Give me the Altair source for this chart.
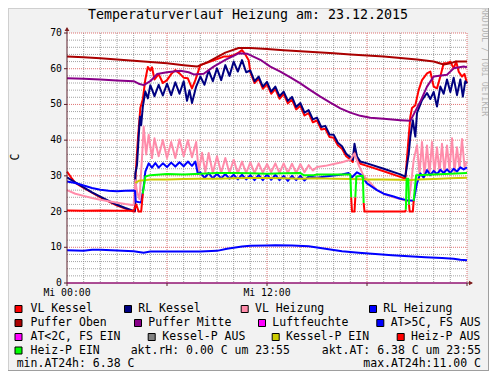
import altair as alt
import pandas as pd

# ---------------- data: hours of the day (23.12.2015) and temperatures in C ----------------
vl_kessel_t = [0, 0.3, 0.5, 1, 2, 3, 4.0, 4.08, 4.1, 4.25, 4.4, 4.55, 4.7, 4.85,
               5.0, 5.1, 5.25, 5.5, 5.75, 6.0, 6.25, 6.5, 6.75, 7.0, 7.25, 7.5, 7.7,
               8.0, 8.3, 8.6, 9.0, 9.4, 9.7, 10.0, 10.3, 10.5, 10.7, 10.9,
               11.0, 11.25, 11.5, 11.75, 12.0, 12.25, 12.5, 12.75, 13.0, 13.25, 13.5, 13.75,
               14.0, 14.25, 14.5, 14.75, 15.0, 15.25, 15.5, 15.75, 16.0, 16.25, 16.5, 16.75, 17.0,
               17.15, 17.25, 17.4, 17.6, 18.0, 19.0, 20.0, 20.3,
               20.45, 20.6, 20.7, 20.9, 21.1, 21.3, 21.6, 21.8, 22.0, 22.2, 22.4, 22.6, 22.8,
               23.0, 23.2, 23.35, 23.5, 23.7, 23.85, 24.0]
vl_kessel_v = [31.2, 29.2, 28.0, 26.6, 24.0, 21.7, 20.0, 20.0, 29.0, 40.0, 49.0, 51.5, 57.0, 60.5,
               59.5, 60.4, 57.0, 58.5, 56.0, 56.8, 58.5, 59.6, 58.7, 57.5, 57.3, 54.5, 56.8,
               61.0, 61.5, 62.0, 62.7, 63.4, 63.4, 63.8, 64.5, 65.2, 64.0, 62.4,
               59.0, 56.0, 57.2, 54.4, 55.6, 53.0, 54.3, 51.6, 52.9, 50.3, 51.3, 48.6,
               49.6, 46.9, 47.6, 45.0, 45.5, 43.0, 43.2, 40.9, 40.7, 38.6, 37.6, 35.5, 34.6,
               33.9, 38.0, 34.8, 33.4, 32.8, 31.3, 29.7, 29.2,
               38.0, 46.6, 49.0, 49.8, 54.0, 56.8, 58.7, 59.2, 55.0, 54.5, 57.8, 61.5, 61.5,
               62.0, 60.1, 62.0, 59.2, 57.8, 58.5, 55.9]

rl_kessel_t = [0, 0.5, 1, 1.5, 2, 2.5, 3, 3.5, 4.0, 4.08, 4.1, 4.2, 4.3, 4.38, 4.45, 4.55, 4.7, 4.85,
               5.0, 5.25, 5.5, 5.75, 6.0, 6.25, 6.5, 6.75, 7.0, 7.2, 7.35, 7.5, 7.75, 8.0,
               8.25, 8.5, 8.75, 9.0, 9.25, 9.5, 9.75, 10.0, 10.25, 10.5, 10.75,
               11.0, 11.25, 11.5, 11.75, 12.0, 12.25, 12.5, 12.75, 13.0, 13.25, 13.5, 13.75,
               14.0, 14.25, 14.5, 14.75, 15.0, 15.25, 15.5, 15.75, 16.0, 16.25, 16.5, 16.75, 17.0,
               17.15, 17.25, 17.4, 17.6, 18.0, 19.0, 20.0, 20.3,
               20.5, 20.6, 20.75, 20.9, 21.0, 21.3, 21.6, 21.8, 22.0, 22.2, 22.4, 22.6, 22.8,
               23.0, 23.2, 23.4, 23.6, 23.75, 23.9, 24.0]
rl_kessel_v = [29.6, 28.2, 26.8, 25.4, 24.2, 23.0, 21.9, 21.0, 20.2, 20.2, 30.7, 33.0, 41.0, 46.6, 44.2, 49.4, 53.6, 51.7,
               55.4, 52.3, 55.5, 52.5, 55.8, 52.6, 56.2, 53.0, 56.5, 51.0, 54.0, 50.4, 55.0, 57.8,
               55.5, 59.5, 56.5, 60.1, 56.8, 61.0, 58.0, 62.0, 59.2, 62.4, 59.0,
               59.5, 56.5, 57.8, 55.0, 56.3, 53.6, 55.0, 52.3, 53.6, 51.0, 52.1, 49.3,
               50.4, 47.7, 48.4, 45.8, 46.3, 43.7, 44.0, 41.6, 41.5, 39.3, 38.3, 36.2, 35.2,
               34.5, 39.0, 35.4, 34.0, 33.5, 32.0, 30.4, 29.8,
               36.0, 41.0, 45.6, 41.0, 47.6, 51.2, 53.2, 51.5, 53.5, 49.4, 55.0, 53.0, 57.0,
               53.5, 57.5, 52.6, 57.0, 52.2, 56.5, 55.9]

vl_heiz_t = [0, 0.5, 1, 1.5, 2, 2.5, 3, 3.5, 4.0, 4.1, 4.2, 4.35, 4.5, 4.6, 4.75, 4.9,
             5.1, 5.25, 5.5, 5.75, 6.0, 6.25, 6.5, 6.75, 7.0, 7.25, 7.5, 7.75,
             7.9, 8.1, 8.3, 8.5, 8.75,
             9.0, 9.25, 9.5, 9.75, 10.0, 10.25, 10.5, 10.75, 11.0, 11.25, 11.5, 11.75, 12.0, 12.25,
             12.5, 12.75, 13.0, 13.25, 13.5, 13.75, 14.0, 14.25, 14.5, 14.75, 15.0,
             15.5, 16.0, 16.5, 17.0, 17.25, 17.5, 17.8, 18.2, 18.6, 19.0, 19.6, 20.2, 20.5,
             20.65, 20.8, 21.0, 21.15, 21.3, 21.45, 21.6, 21.75, 21.9, 22.05, 22.2, 22.35, 22.5,
             22.65, 22.8, 22.95, 23.1, 23.25, 23.4, 23.55, 23.7, 23.85, 24.0]
vl_heiz_v = [26.0, 25.0, 24.4, 23.8, 23.3, 22.9, 22.5, 22.1, 21.8, 28.8, 25.5, 23.5, 35.0, 43.8, 36.0, 41.5,
             35.0, 40.5, 35.5, 40.0, 35.0, 39.5, 35.0, 40.2, 35.5, 40.0, 35.2, 39.5,
             31.0, 36.5, 31.0, 36.4, 30.8,
             35.5, 30.8, 35.0, 30.8, 34.5, 30.7, 34.0, 30.8, 33.8, 30.8, 33.5, 30.9, 33.3, 31.0,
             33.5, 30.8, 33.5, 30.8, 33.4, 30.8, 33.3, 31.0, 33.0, 31.5, 32.5,
             32.8, 33.3, 33.8, 34.5, 36.3, 33.0, 30.0, 28.0, 26.0, 25.0, 24.0, 23.2, 22.8,
             28.0, 34.4, 38.6, 30.5, 39.5, 30.0, 38.5, 30.5, 39.5, 30.8, 38.0, 31.0, 39.0,
             31.0, 38.5, 31.5, 40.5, 31.0, 38.0, 32.0, 40.3, 32.5, 34.0]

rl_heiz_t = [0, 0.5, 1, 1.5, 2, 2.5, 3, 3.5, 4.0, 4.08, 4.12, 4.45, 4.6, 4.7, 4.9,
             5.1, 5.3, 5.5, 5.75, 6.0, 6.25, 6.5, 6.75, 7.0, 7.25, 7.5, 7.7, 7.85,
             8.0, 8.25, 8.5, 8.75, 9.0, 9.25, 9.5, 9.75, 10.0, 10.25, 10.5, 10.75, 11.0, 11.25,
             11.5, 11.75, 12.0, 12.25, 12.5, 12.75, 13.0, 13.25, 13.5, 13.75, 14.0, 14.25, 14.5,
             15.0, 15.5, 16.0, 16.5, 16.9, 17.1, 17.4, 17.6, 18.0, 18.6, 19.0, 19.6, 20.0, 20.4, 20.8,
             21.0, 21.2, 21.4, 21.6, 21.8, 22.0, 22.2, 22.4, 22.6, 22.8, 23.0, 23.2, 23.4, 23.6, 23.8, 24.0]
rl_heiz_v = [28.4, 28.0, 27.3, 26.6, 26.1, 25.8, 25.7, 25.8, 25.9, 25.8, 22.8, 22.5, 27.0, 31.2, 33.5,
             32.3, 33.6, 32.3, 33.5, 32.5, 33.7, 32.6, 33.8, 32.7, 34.0, 32.8, 34.0, 30.5,
             31.0, 29.4, 30.8, 29.3, 30.6, 29.3, 30.5, 29.2, 30.3, 29.0, 30.3, 29.0, 30.2, 28.8,
             30.3, 28.8, 30.4, 28.9, 30.3, 28.8, 30.0, 28.6, 30.0, 28.8, 30.0, 28.7, 29.8,
             29.5, 29.8, 30.1, 30.4, 30.8, 29.6, 31.0, 30.5, 27.9, 26.0, 25.0, 24.2, 23.6, 23.2, 23.0,
             27.9, 30.7, 29.5, 31.6, 30.2, 31.4, 30.5, 31.7, 30.8, 31.8, 30.8, 32.0, 31.2, 32.4, 31.8, 32.4]

puffer_oben_t = [0, 1, 2, 3, 4, 5, 6, 7, 7.8, 8.5, 9.5, 10.3, 11, 12, 13, 14, 15, 16, 17, 18, 19, 20,
                 21, 22, 22.6, 23, 23.3, 24]
puffer_oben_v = [63.4, 63.2, 62.9, 62.6, 62.2, 61.9, 61.5, 61.0, 60.6, 62.0, 64.5, 65.8, 65.8, 65.5,
                 65.2, 64.9, 64.6, 64.3, 64.0, 63.7, 63.4, 63.0, 62.6, 62.0, 61.2, 61.5, 62.0, 62.0]

puffer_mitte_t = [0, 1, 2, 3, 4, 4.3, 4.6, 5.0, 5.4, 6.0, 6.8, 7.3, 7.6, 8.2, 8.8, 9.5, 10.3, 10.8,
                  11.6, 12.2, 12.8, 13.4, 14, 14.6, 15.2, 15.8, 16.4, 17, 17.6, 18.2, 19, 20, 20.6,
                  21.2, 21.6, 22.0, 22.8, 23.2, 23.8, 24]
puffer_mitte_v = [57.3, 57.2, 57.0, 56.7, 56.5, 55.8, 55.4, 56.5, 58.5, 59.0, 59.4, 59.0, 58.4, 58.6,
                  60.6, 62.5, 64.3, 64.2, 62.5, 60.6, 59.2, 57.6, 55.9, 54.0, 52.2, 50.5, 48.9, 47.7,
                  46.8, 46.3, 46.0, 45.6, 45.4, 50.8, 55.0, 57.8, 58.3, 60.1, 60.6, 60.4]

luftfeuchte_t = [0, 24]
luftfeuchte_v = [0.0, 0.0]

aussen_t = [0, 1, 1.5, 2, 3, 4, 4.6, 5, 6, 7, 8, 9, 9.6, 10.5, 11, 12, 12.5, 13.5, 14.5, 15.5,
            16.5, 17.5, 18.5, 19.5, 20.5, 21.5, 22.5, 23.2, 23.6, 24]
aussen_v = [9.2, 9.0, 9.3, 9.3, 9.1, 8.9, 8.5, 8.8, 8.8, 8.8, 8.8, 9.0, 9.6, 10.2, 10.4, 10.5, 10.6,
            10.5, 10.3, 9.6, 8.9, 8.5, 8.1, 7.8, 7.5, 7.2, 7.0, 6.8, 6.5, 6.4]

kessel_p_ein_t = [4.1, 4.3, 5, 6, 7, 8, 9, 10, 11, 12, 13, 14, 15, 16, 17, 18, 19, 20, 20.5, 21, 22, 23, 24]
kessel_p_ein_v = [28.0, 28.6, 29.0, 29.0, 29.1, 29.2, 29.2, 29.3, 29.4, 29.4, 29.3, 29.2, 29.3, 29.2,
                  29.1, 29.0, 29.0, 28.9, 28.8, 29.0, 29.1, 29.3, 29.5]

heiz_p_aus_t = [0, 1, 2, 3, 4.0, 4.15, 4.3, 4.45, 4.55,
                17.05, 17.1, 17.25, 17.3,
                17.8, 17.85, 20.3, 20.33,
                20.52, 20.56, 20.75, 20.8]
heiz_p_aus_v = [20.3, 20.2, 20.3, 20.2, 20.2, 22.0, 20.0, 20.0, 25.0,
                24.0, 20.0, 20.0, 24.0,
                22.4, 20.0, 20.0, 20.5,
                22.0, 20.0, 20.0, 23.0]
heiz_p_aus_seg = [0, 0, 0, 0, 0, 0, 0, 0, 0,
                  1, 1, 1, 1,
                  2, 2, 2, 2,
                  3, 3, 3, 3]

heiz_p_ein_t = [4.55, 4.7, 5.0, 6.0, 7.0, 8.0, 9.0, 10.0, 11.0, 12.0, 13.0, 14.0, 14.2, 14.8, 15.0,
                16.0, 17.0, 17.05,
                17.3, 17.36, 17.75, 17.8,
                20.33, 20.38, 20.48, 20.52,
                20.8, 20.95, 22.0, 23.0, 24.0]
heiz_p_ein_v = [25.0, 29.8, 30.2, 30.5, 30.4, 30.6, 30.8, 30.8, 30.7, 30.6, 30.7, 30.8, 30.2, 30.2, 30.4,
                30.4, 30.4, 24.0,
                24.0, 29.8, 30.0, 22.4,
                20.5, 29.2, 29.2, 22.0,
                23.0, 30.2, 30.4, 30.6, 30.8]
heiz_p_ein_seg = [0, 0, 0, 0, 0, 0, 0, 0, 0, 0, 0, 0, 0, 0, 0, 0, 0, 0,
                  1, 1, 1, 1,
                  2, 2, 2, 2,
                  3, 3, 3, 3, 3]

legend_labels = ["VL Kessel", "RL Kessel", "VL Heizung", "RL Heizung",
                 "Puffer Oben", "Puffer Mitte", "Luftfeuchte", "AT>5C, FS AUS",
                 "AT<2C, FS EIN", "Kessel-P AUS", "Kessel-P EIN", "Heiz-P AUS",
                 "Heiz-P EIN"]
info_texts = ["akt.rH: 0.00 C um 23:55", "akt.AT: 6.38 C um 23:55",
              "min.AT24h: 6.38 C", "max.AT24h:11.00 C"]
x_tick_hours = [0, 12]
x_tick_labels = ["Mi 00:00", "Mi 12:00"]
y_ticks = [0, 10, 20, 30, 40, 50, 60, 70]
y_tick_labels = ["0", "10", "20", "30", "40", "50", "60", "70"]

# ---------------- styles / layout ----------------
COLORS = {
    "VL Kessel": "#FF0000", "RL Kessel": "#000080", "VL Heizung": "#FF8CAA",
    "RL Heizung": "#0000FF", "Puffer Oben": "#AA0000", "Puffer Mitte": "#880088",
    "Luftfeuchte": "#FF00FF", "AT>5C, FS AUS": "#0000FF", "AT<2C, FS EIN": "#FF00FF",
    "Kessel-P AUS": "#808080", "Kessel-P EIN": "#CCCC00", "Heiz-P AUS": "#FF0000",
    "Heiz-P EIN": "#00FF00",
}
FONT = "DejaVu Sans Mono"
W, H = 400, 250
PAD = {"left": 59, "top": 25, "right": 22, "bottom": 88}

legend_text_x = [-36.5, 71.3, 188, 316.3, -36.5, 81.3, 205.3, 323.7, -36.5, 95.3, 219, 344, -36.5]
legend_swatch_x = [-48.5, 61, 177.7, 306, -48.5, 71, 195, 313.3, -48.5, 84.7, 208.7, 333.7, -48.5]
legend_row_y = [276, 276, 276, 276, 290, 290, 290, 290, 304, 304, 304, 304, 317.5]
info_layout = [(63.7, 317.5, "left"), (414, 317.5, "right"), (-50.3, 331, "left"), (414, 331, "right")]

xs = alt.Scale(domain=[0, 24], nice=False, zero=False)
ys = alt.Scale(domain=[0, 70], nice=False, zero=False)
AXIS_COL = "#5a1f2a"
ARROW_COL = "#801F1F"
MINOR_COL = "#8c8c8c"
MAJOR_COL = "#d85a5a"

one = pd.DataFrame({"a": [0]})


def X(field="t"):
    return alt.X(f"{field}:Q", scale=xs, axis=None)


def Y(field="v"):
    return alt.Y(f"{field}:Q", scale=ys, axis=None)


series_def = [
    ("VL Kessel", vl_kessel_t, vl_kessel_v, None),
    ("RL Kessel", rl_kessel_t, rl_kessel_v, None),
    ("VL Heizung", vl_heiz_t, vl_heiz_v, None),
    ("RL Heizung", rl_heiz_t, rl_heiz_v, None),
    ("Puffer Oben", puffer_oben_t, puffer_oben_v, None),
    ("Puffer Mitte", puffer_mitte_t, puffer_mitte_v, None),
    ("Luftfeuchte", luftfeuchte_t, luftfeuchte_v, None),
    ("AT>5C, FS AUS", aussen_t, aussen_v, None),
    ("Kessel-P EIN", kessel_p_ein_t, kessel_p_ein_v, None),
    ("Heiz-P AUS", heiz_p_aus_t, heiz_p_aus_v, heiz_p_aus_seg),
    ("Heiz-P EIN", heiz_p_ein_t, heiz_p_ein_v, heiz_p_ein_seg),
]

layers = []

# ---- plot canvas ----
layers.append(alt.Chart(one).mark_rect(color="white", opacity=1).encode(
    x=alt.value(0), x2=alt.value(W), y=alt.value(0), y2=alt.value(H)))

# ---- grid (rrdtool dotted lines) ----
y_minor = [v for v in range(2, 70, 2) if v % 10]
y_major = [10, 20, 30, 40, 50, 60, 70]
x_minor = [h for h in range(1, 24) if h % 6]
x_major = [6, 12, 18, 24]
layers.append(alt.Chart(pd.DataFrame({"v": y_minor})).mark_rule(
    color=MINOR_COL, strokeDash=[1, 1], strokeWidth=1, opacity=0.8).encode(
    y=Y(), x=alt.value(0), x2=alt.value(W)))
layers.append(alt.Chart(pd.DataFrame({"t": x_minor})).mark_rule(
    color=MINOR_COL, strokeDash=[1, 1], strokeWidth=1, opacity=0.8).encode(
    x=X(), y=alt.value(0), y2=alt.value(H)))
layers.append(alt.Chart(pd.DataFrame({"v": y_major})).mark_rule(
    color=MAJOR_COL, strokeDash=[1, 1], strokeWidth=1, opacity=0.85).encode(
    y=Y(), x=alt.value(0), x2=alt.value(W)))
layers.append(alt.Chart(pd.DataFrame({"t": x_major})).mark_rule(
    color=MAJOR_COL, strokeDash=[1, 1], strokeWidth=1, opacity=0.85).encode(
    x=X(), y=alt.value(0), y2=alt.value(H)))

# ---- data lines, drawn in legend order ----
for name, ts, vs, seg in series_def:
    assert len(ts) == len(vs)
    df = pd.DataFrame({"t": ts, "v": vs, "seg": seg if seg is not None else [0] * len(ts)})
    sw = 1 if name == "Luftfeuchte" else 2
    layers.append(alt.Chart(df).mark_line(
        color=COLORS[name], strokeWidth=sw, strokeJoin="round"
    ).encode(x=X(), y=Y(), detail="seg:N", order="t:Q"))

# ---- axes (lines, ticks, labels), extensions and arrows ----
layers.append(alt.Chart(one).mark_rule(color=AXIS_COL, strokeWidth=1).encode(
    x=alt.value(0), y=alt.value(-5), y2=alt.value(H)))
layers.append(alt.Chart(one).mark_rule(color=AXIS_COL, strokeWidth=1).encode(
    x=alt.value(0), x2=alt.value(W + 5), y=alt.value(H)))
layers.append(alt.Chart(pd.DataFrame({"v": y_ticks})).mark_rule(color=AXIS_COL, strokeWidth=1).encode(
    y=Y(), x=alt.value(-3), x2=alt.value(0)))
layers.append(alt.Chart(pd.DataFrame({"t": [0] + x_major})).mark_rule(color=AXIS_COL, strokeWidth=1).encode(
    x=X(), y=alt.value(H), y2=alt.value(H + 3)))
layers.append(alt.Chart(pd.DataFrame({"v": y_ticks, "lab": y_tick_labels})).mark_text(
    font=FONT, fontSize=9.8, align="right", baseline="middle", color="black").encode(
    y=Y(), x=alt.value(-5), text="lab:N"))
layers.append(alt.Chart(pd.DataFrame({"t": x_tick_hours, "lab": x_tick_labels})).mark_text(
    font=FONT, fontSize=9.8, align="center", baseline="middle", color="black").encode(
    x=X(), y=alt.value(H + 9.5), text="lab:N"))
layers.append(alt.Chart(one).mark_point(
    shape="triangle-up", filled=True, size=22, color=ARROW_COL, opacity=1).encode(
    x=alt.value(0), y=alt.value(-4)))
layers.append(alt.Chart(one).mark_point(
    shape="triangle-right", filled=True, size=22, color=ARROW_COL, opacity=1).encode(
    x=alt.value(W + 4), y=alt.value(H)))

# ---- title, y label, watermark ----
layers.append(alt.Chart(one).mark_text(
    text="Temperaturverlauf Heizung am: 23.12.2015", font=FONT, fontSize=13.3,
    align="center", baseline="middle", color="black").encode(x=alt.value(181), y=alt.value(-18.5)))
layers.append(alt.Chart(one).mark_text(
    text="C", font=FONT, fontSize=11.5, angle=270, align="center", baseline="middle",
    color="black").encode(x=alt.value(-51), y=alt.value(124)))
layers.append(alt.Chart(one).mark_text(
    text="RRDTOOL / TOBI OETIKER", font=FONT, fontSize=8.2, angle=90, align="center",
    baseline="middle", color="#b4b4b4").encode(x=alt.value(417), y=alt.value(29)))

# ---- legend ----
for lab, tx, sx, ry in zip(legend_labels, legend_text_x, legend_swatch_x, legend_row_y):
    layers.append(alt.Chart(one).mark_square(
        size=49, opacity=1, fill=COLORS[lab], stroke="#000000", strokeWidth=1).encode(
        x=alt.value(sx), y=alt.value(ry)))
    layers.append(alt.Chart(one).mark_text(
        text=lab, font=FONT, fontSize=11.5, align="left", baseline="middle", color="black").encode(
        x=alt.value(tx), y=alt.value(ry)))
for txt, (ix, iy, al) in zip(info_texts, info_layout):
    layers.append(alt.Chart(one).mark_text(
        text=txt, font=FONT, fontSize=11.5, align=al, baseline="middle", color="black").encode(
        x=alt.value(ix), y=alt.value(iy)))

# ---- frame (3D shading of the rrdtool canvas) ----
FW, FH = W + PAD["left"] + PAD["right"], H + PAD["top"] + PAD["bottom"]
L0, T0 = -PAD["left"], -PAD["top"]
for (x1, x2, y1, y2, c) in [
    (L0, L0 + FW, T0 + 0.5, None, "#CFCFCF"),
    (L0 + 0.5, None, T0, T0 + FH, "#CFCFCF"),
    (L0, L0 + FW, T0 + FH - 0.5, None, "#9E9E9E"),
    (L0 + FW - 0.5, None, T0, T0 + FH, "#9E9E9E"),
]:
    enc = {"x": alt.value(x1), "y": alt.value(y1)}
    if x2 is not None:
        enc["x2"] = alt.value(x2)
    if y2 is not None:
        enc["y2"] = alt.value(y2)
    layers.append(alt.Chart(one).mark_rule(color=c, strokeWidth=1).encode(**enc))

chart = alt.layer(*layers).properties(
    width=W, height=H,
    autosize=alt.AutoSizeParams(type="none"),
    padding=PAD,
    background="#F2F2F2",
).configure_view(stroke=None)

chart.save("out.html", embed_options={"renderer": "svg", "actions": False})
